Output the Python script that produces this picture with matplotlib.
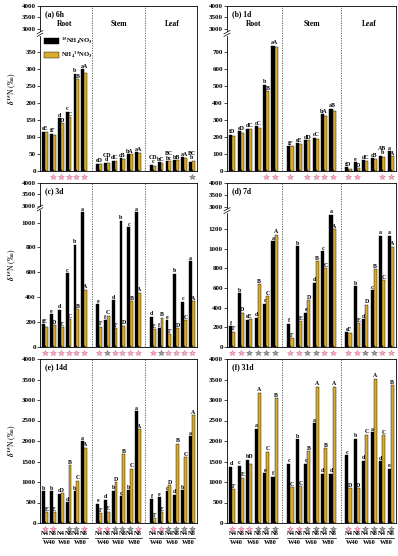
import numpy as np
import matplotlib
matplotlib.use('Agg')
import matplotlib.pyplot as plt
import matplotlib.transforms as mtransforms

plt.rcParams['font.family'] = ['Liberation Serif', 'DejaVu Serif']
plt.rcParams['font.weight'] = 'bold'
plt.rcParams['mathtext.fontset'] = 'stix'
plt.rcParams['axes.linewidth'] = 0.6

organs = ['Root', 'Stem', 'Leaf']
n_labels = ['N4', 'N8'] * 3
w_labels = ['W40', 'W60', 'W80']
series = [r'$^{\mathbf{15}}$NH$_\mathbf{4}$NO$_\mathbf{3}$', r'NH$_\mathbf{4}$$^{\mathbf{15}}$NO$_\mathbf{3}$']

# (a) 6h  -- rows: root, stem, leaf ; groups: W40N4 W40N8 W60N4 W60N8 W80N4 W80N8
a_nh4 = [[115, 109, 155, 174, 285, 298], [21, 24, 30, 37, 50, 55], [19, 25, 28, 32, 40, 27]]
a_no3 = [[113, 106, 140, 158, 270, 288], [20, 23, 28, 36, 50, 54], [16, 24, 29, 31, 37, 30]]
a_lo = [list('efdcba'), list('eddcba'), ['c', 'b', 'bc', 'b', 'a', 'b']]
a_up = [list('EFDCBA'), ['D', 'CD', 'C', 'B', 'A', 'A'], ['CD', 'C', 'BC', 'B', 'A', 'BC']]
a_star = ['-ppppp', '------', '-----g']

# (b) 1d
b_nh4 = [[212, 235, 249, 261, 506, 735], [147, 163, 182, 196, 333, 365], [23, 52, 62, 75, 90, 116]]
b_no3 = [[204, 220, 245, 251, 467, 729], [145, 160, 180, 188, 323, 349], [10, 17, 60, 72, 84, 87]]
b_lo = [list('fedcba'), list('fedcba'), list('fedcba')]
b_up = [list('DDCCBA'), list('FEDCAB'), ['D', 'D', 'C', 'B', 'AB', 'A']]
b_star = ['----pp', 'p-pppp', 'pp--pp']

# (c) 3d
c_nh4 = [[184, 264, 301, 594, 822, 1083], [344, 216, 376, 1016, 963, 1085], [242, 150, 216, 590, 363, 690]]
c_no3 = [[158, 176, 160, 225, 304, 460], [163, 250, 150, 172, 370, 435], [144, 235, 104, 153, 216, 370]]
c_lo = [list('fedcba'), list('efdbca'), list('dfebca')]
c_up = [list('EDECBA'), list('FCFDBA'), list('EBFDCA')]
c_star = ['pppppp', 'pgpppp', 'pgpppp']

# (d) 7d
d_nh4 = [[213, 545, 271, 297, 440, 1076], [237, 1025, 348, 653, 975, 1345], [152, 619, 280, 575, 1130, 1130]]
d_no3 = [[155, 350, 282, 636, 518, 1140], [88, 264, 474, 870, 800, 1200], [139, 241, 430, 790, 680, 1020]]
d_lo = [list('fbedca'), list('fbedca'), list('ebdcaa')]
d_up = [list('FDEBCA'), list('FEDBCA'), list('FEDBCA')]
d_star = ['ppgggg', 'ppggpp', 'ppggpp']

# (e) 14d
e_nh4 = [[770, 770, 710, 510, 770, 1990], [468, 570, 790, 650, 800, 2720], [580, 630, 770, 690, 800, 2120]]
e_no3 = [[260, 260, 727, 1415, 1027, 1840], [240, 280, 995, 1680, 1320, 2290], [110, 260, 920, 1935, 1600, 2630]]
e_lo = [list('bbcdba'), list('edbcba'), list('fecdba')]
e_up = [list('EEDBCA'), list('FEDBCA'), list('FEDBCA')]
e_star = ['pp-ggp', 'ppgggp', 'ppgggg']

# (f) 31d
f_nh4 = [[1370, 1400, 1545, 2300, 1215, 1130], [1450, 2040, 1450, 2440, 1200, 1200], [1650, 2060, 1520, 2220, 1510, 1320]]
f_no3 = [[825, 1100, 1450, 3180, 1740, 3050], [870, 900, 1755, 3320, 1820, 3320], [850, 850, 2150, 3520, 2140, 3360]]
f_lo = [list('dcbaef'), list('cbcadd'), list('cbdade')]
f_up = [list('FEDACB'), list('CCBABA'), list('DDCACB')]
f_star = ['pppggg', 'ppgggg', 'ppgggg']

panels = [
    ('(a) 6h', a_nh4, a_no3, a_lo, a_up, a_star, (390, 0.806, 0.861), np.arange(0, 351, 50)),
    ('(b) 1d', b_nh4, b_no3, b_lo, b_up, b_star, (780, 0.806, 0.861), np.arange(0, 701, 100)),
    ('(c) 3d', c_nh4, c_no3, c_lo, c_up, c_star, (1100, 0.835, 0.86), np.arange(0, 1001, 200)),
    ('(d) 7d', d_nh4, d_no3, d_lo, d_up, d_star, (1350, 0.81, 0.854), np.arange(0, 1201, 200)),
    ('(e) 14d', e_nh4, e_no3, e_lo, e_up, e_star, None, None),
    ('(f) 31d', f_nh4, f_no3, f_lo, f_up, f_star, None, None),
]

black = '#000000'
gold = '#d8ab30'
pink_f, pink_e = '#f4bccb', '#d9708f'
grey_f, grey_e = '#a0a0a0', '#6a6a6a'


def broken_scale(L, fL, fU):
    xp = [-4000, 0, L, 3000, 4000, 8000]
    fp = [-4000 * fL / L, 0, fL, fU, 1, 1 + 4 * (1 - fU)]
    return (lambda y: np.interp(y, xp, fp)), (lambda f: np.interp(f, fp, xp))


W, H = 398, 556
fig = plt.figure(figsize=(W / 100, H / 100), dpi=100)
rows = [(6, 171), (183, 347), (359, 523)]
cols = [(40, 157), (227, 169)]

step = 6.9
bw = 0.36
lfs = 4.2
for i, (title, nh4, no3, lo, up, stars, brk, lticks) in enumerate(panels):
    r, c = divmod(i, 2)
    top, bot = rows[r]
    left, width = cols[c]
    ax = fig.add_axes([left / W, 1 - bot / H, width / W, (bot - top) / H])

    if brk is not None:
        fwd, inv = broken_scale(*brk)
        ax.set_yscale('function', functions=(fwd, inv))
        ax.set_yticks(list(lticks) + [3000, 3500, 4000])
    else:
        ax.set_yticks(np.arange(0, 4001, 500))
    ax.set_ylim(0, 4000)
    ax.set_xlim(-0.65, 2 * step + 5.65)

    centers = []
    for s in range(3):
        x = s * step + np.arange(6)
        centers.extend(x)
        ax.bar(x - bw / 2, nh4[s], bw, color=black, edgecolor='black', lw=0.3,
               label=series[0] if s == 0 else None)
        ax.bar(x + bw / 2, no3[s], bw, color=gold, edgecolor='black', lw=0.3,
               label=series[1] if s == 0 else None)
        for g in range(6):
            yb = ax.transData.transform((0, nh4[s][g]))[1]
            yy = ax.transData.transform((0, no3[s][g]))[1]
            if abs(yb - yy) < 4:
                # tops almost level: one label over the pair
                txt = lo[s][g] + up[s][g]
                if len(txt) > 2:
                    txt = up[s][g] + '\n' + lo[s][g]
                ax.annotate(txt, (x[g], max(nh4[s][g], no3[s][g])), xytext=(0, 0.3),
                            textcoords='offset points', ha='center', va='bottom', fontsize=lfs,
                            linespacing=0.85)
            else:
                ax.annotate(lo[s][g], (x[g] - bw / 2, nh4[s][g]), xytext=(0, 0.3),
                            textcoords='offset points', ha='center', va='bottom', fontsize=lfs)
                ax.annotate(up[s][g], (x[g] + bw / 2, no3[s][g]), xytext=(0, 0.3),
                            textcoords='offset points', ha='center', va='bottom', fontsize=lfs)
            st = stars[s][g]
            if st != '-':
                fc, ec = (pink_f, pink_e) if st == 'p' else (grey_f, grey_e)
                tr = mtransforms.offset_copy(ax.get_xaxis_transform(), fig=fig, y=-5.5, units='dots')
                ax.plot([x[g]], [0], marker='*', ms=4.2, mfc=fc, mec=ec, mew=0.4,
                        transform=tr, clip_on=False)
        if s > 0:
            ax.axvline(s * step - (step - 5) / 2, color='#555555', lw=0.6, ls=(0, (1.5, 1.5)))

    ax.tick_params(axis='y', labelsize=5, length=2, width=0.5, pad=1)
    ax.set_xticks(centers)
    ax.tick_params(axis='x', direction='in', length=1.5, width=0.5)
    if r == 2:
        ax.set_xticklabels(n_labels * 3)
        ax.tick_params(axis='x', labelsize=4.6, pad=5.5)
        for s in range(3):
            for k in range(3):
                x0 = s * step + 2 * k
                tr1 = mtransforms.offset_copy(ax.get_xaxis_transform(), fig=fig, y=-14.5, units='dots')
                ax.plot([x0 - 0.45, x0 + 1.45], [0, 0], color='black', lw=0.5,
                        transform=tr1, clip_on=False)
                tr2 = mtransforms.offset_copy(ax.get_xaxis_transform(), fig=fig, y=-20, units='dots')
                ax.text(x0 + 0.5, 0, w_labels[k], transform=tr2, ha='center', va='center', fontsize=4.6)
    else:
        ax.set_xticklabels([])

    ax.text(0.03, 1 - 8 / (bot - top), title, transform=ax.transAxes, ha='left', va='center', fontsize=5.5)
    if r == 0:
        for s in range(3):
            ax.text(s * step + 2.5, 1 - 18 / (bot - top), organs[s], transform=ax.get_xaxis_transform(),
                    ha='center', va='center', fontsize=5.5)
    if i == 0:
        ax.legend(loc='upper left', bbox_to_anchor=(0.0, 0.845), frameon=False, fontsize=4.8,
                  handlelength=2.2, handleheight=1.0, borderaxespad=0.2, labelspacing=0.5,
                  handletextpad=0.4)
    if c == 0:
        ax.set_ylabel(r'$\delta^{\mathbf{15}}$N (‰)', fontsize=5.5, labelpad=2)

    if brk is not None:
        g = (brk[1] + brk[2]) / 2
        ax.add_patch(plt.Rectangle((-0.02, g - 0.008), 0.04, 0.016, transform=ax.transAxes,
                                   color='white', clip_on=False, zorder=5))
        for dy in (-0.008, 0.008):
            ax.plot([-0.018, 0.018], [g + dy - 0.01, g + dy + 0.01], transform=ax.transAxes,
                    color='black', lw=0.5, clip_on=False, zorder=6)

fig.savefig('out.png', dpi=100)
